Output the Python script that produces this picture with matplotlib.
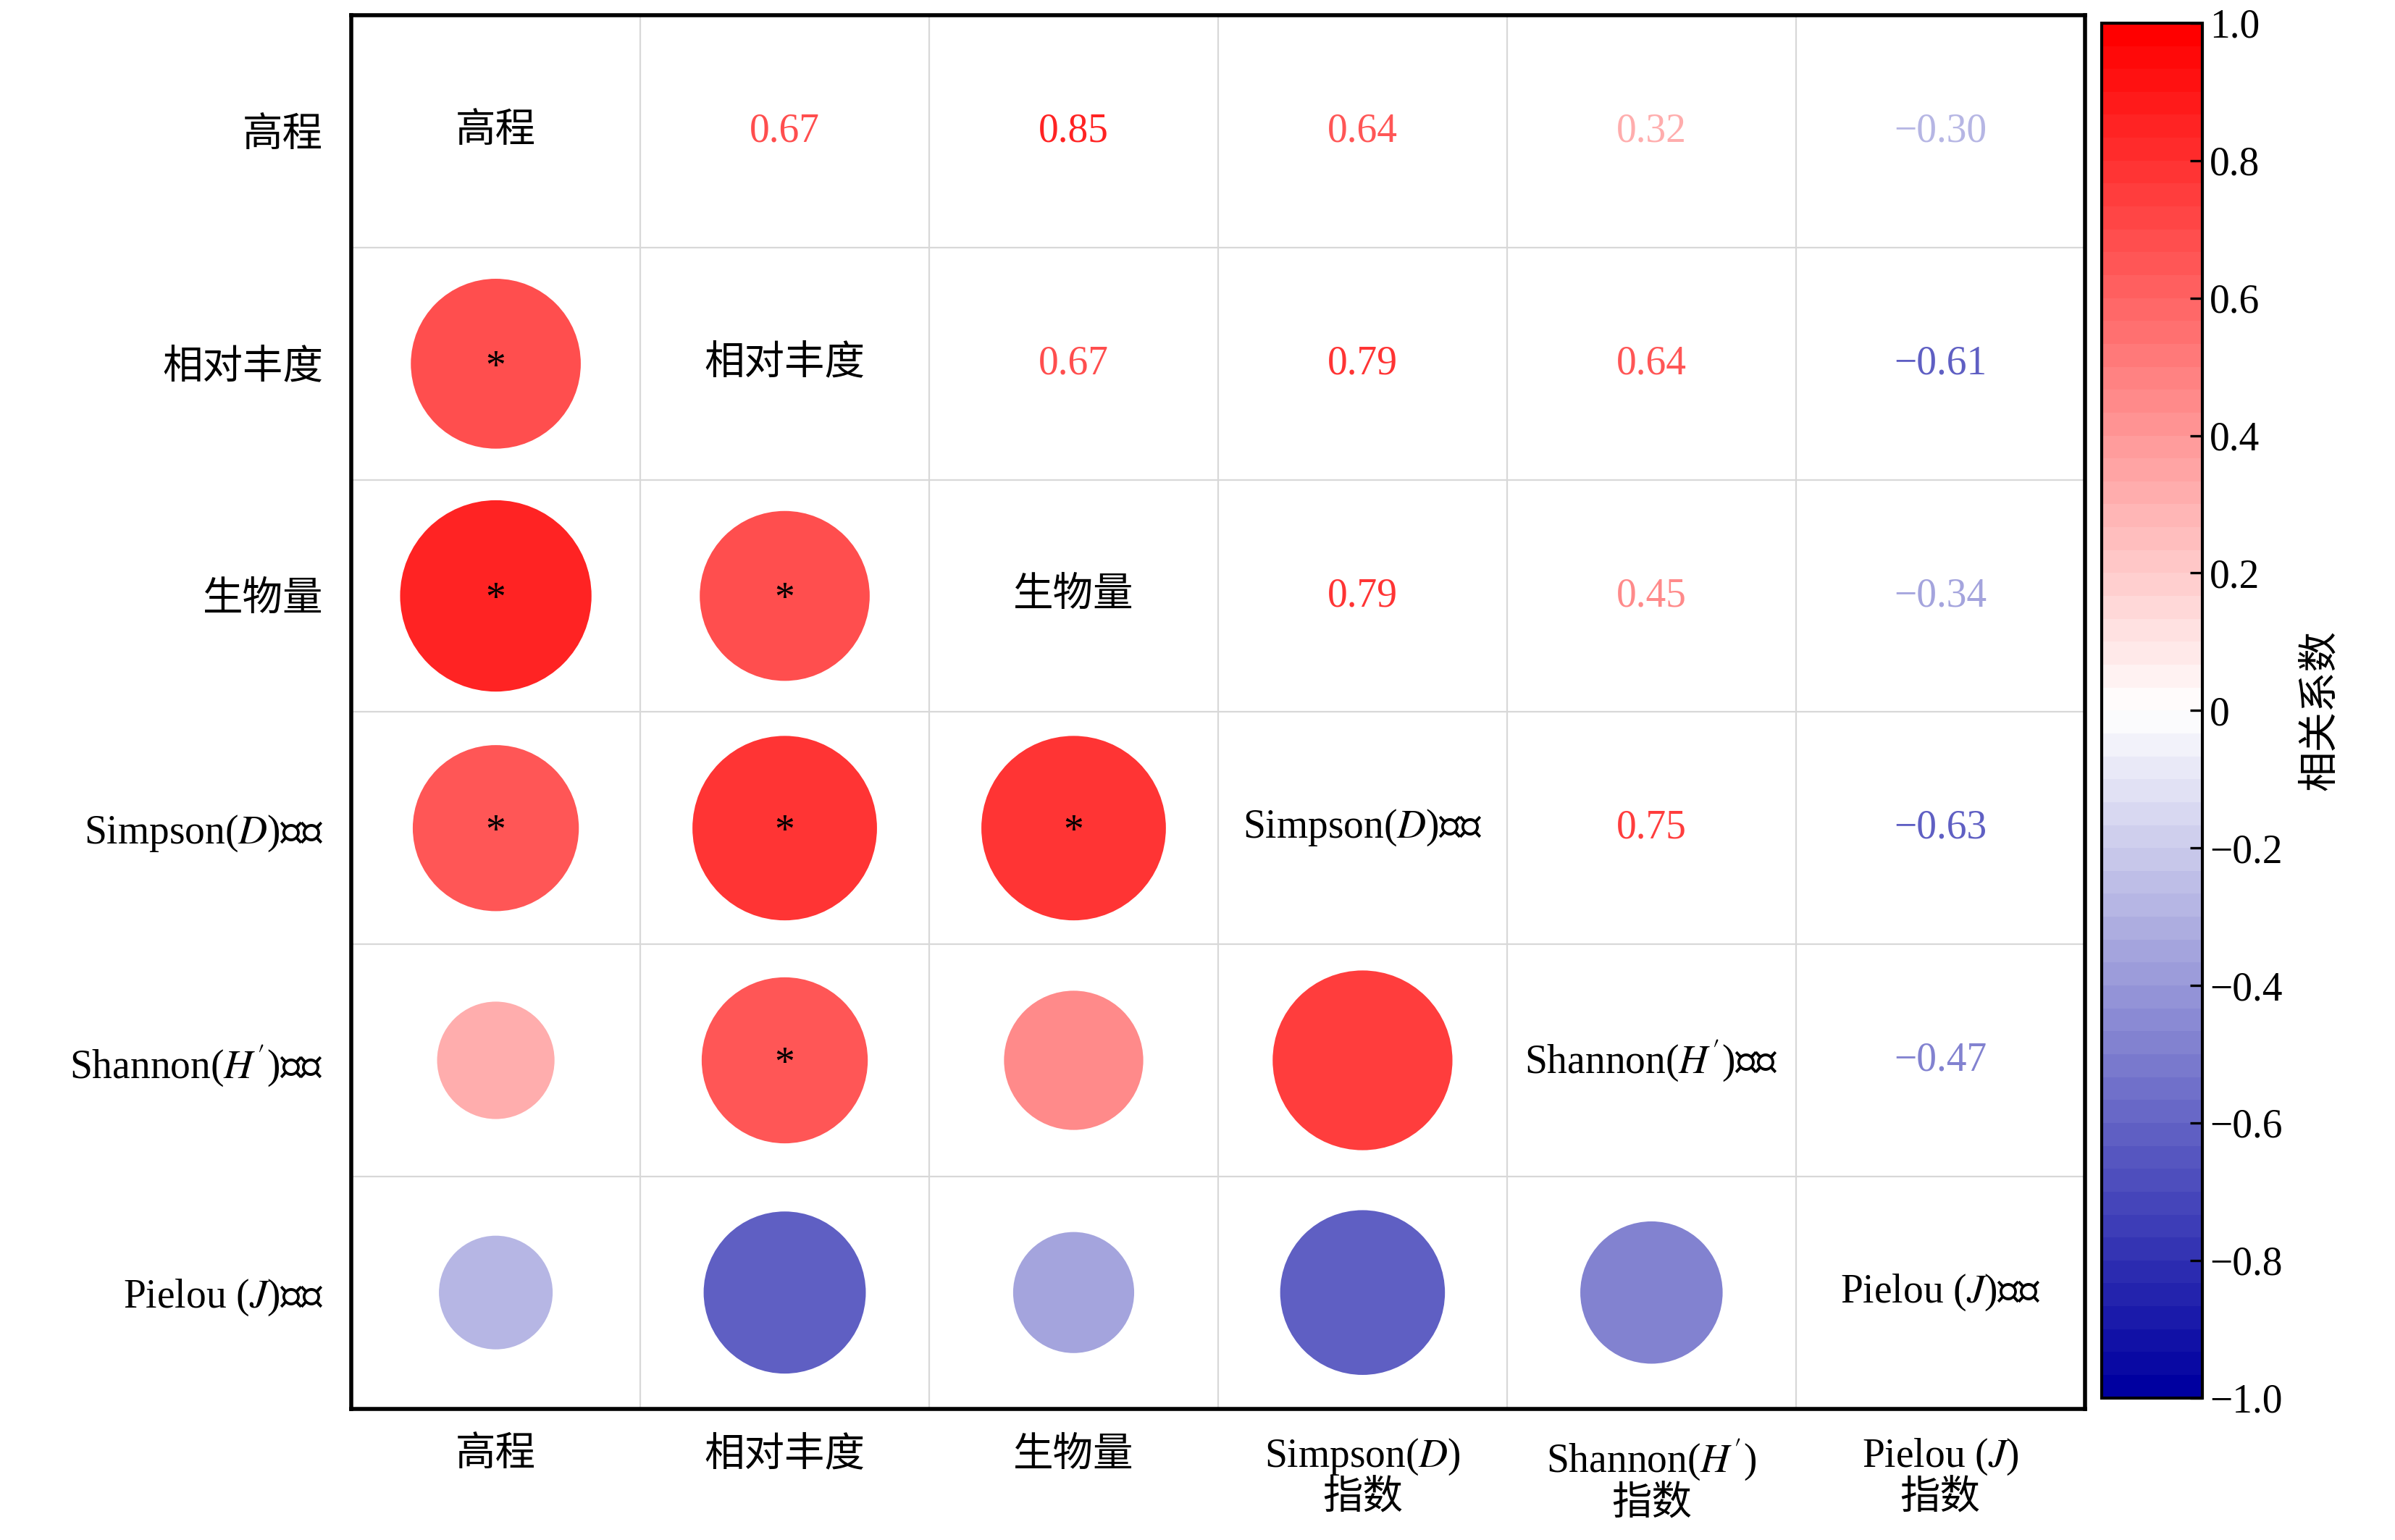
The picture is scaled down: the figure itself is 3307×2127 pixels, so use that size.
import numpy as np
import matplotlib
matplotlib.use("Agg")
import matplotlib.pyplot as plt
from matplotlib.colors import LinearSegmentedColormap, Normalize

plt.rcParams['font.family'] = ['Liberation Serif', 'Noto Sans CJK SC']
plt.rcParams['mathtext.fontset'] = 'stix'

labels = ['高程', '相对丰度', '生物量', 'Simpson($\\mathit{D}$)指数',
          "Shannon($\\mathit{H'}$)指数", 'Pielou ($\\mathit{J}$)指数']
xlabels = ['高程', '相对丰度', '生物量', 'Simpson($\\mathit{D}$)\n指数',
           "Shannon($\\mathit{H'}$)\n指数", 'Pielou ($\\mathit{J}$)\n指数']

# upper triangle values (row i, col j>i)
upper = {
    (0, 1): 0.67, (0, 2): 0.85, (0, 3): 0.64, (0, 4): 0.32, (0, 5): -0.30,
    (1, 2): 0.67, (1, 3): 0.79, (1, 4): 0.64, (1, 5): -0.61,
    (2, 3): 0.79, (2, 4): 0.45, (2, 5): -0.34,
    (3, 4): 0.75, (3, 5): -0.63,
    (4, 5): -0.47,
}
stars = [(1, 0), (2, 0), (3, 0), (2, 1), (3, 1), (4, 1), (3, 2)]

n = len(labels)
cmap = LinearSegmentedColormap.from_list('bwr2', ['#0000a0', '#ffffff', '#ff0000'], N=60)
norm = Normalize(-1, 1)

fig = plt.figure(figsize=(16.535, 10.635), dpi=200)
ax = fig.add_axes([0.1467, 0.0853, 0.7238, 0.9047])
ax.set_xlim(-0.5, n - 0.5)
ax.set_ylim(n - 0.5, -0.5)

for k in range(1, n):
    ax.axvline(k - 0.5, color='#d8d8d8', lw=0.8, zorder=0)
    ax.axhline(k - 0.5, color='#d8d8d8', lw=0.8, zorder=0)

fs = 20
for (i, j), r in upper.items():
    ax.text(j, i, f'{r:.2f}'.replace('-', '−'), ha='center', va='center',
            fontsize=fs, color=cmap(norm(r)))
    ax.scatter([i], [j], s=10650 * abs(r), color=cmap(norm(r)), edgecolors='none', zorder=2)
for i in range(n):
    ax.text(i, i, labels[i], ha='center', va='center', fontsize=fs, color='black')
for (i, j) in stars:
    ax.text(j, i + 0.02, '*', ha='center', va='center', fontsize=fs, color='black', zorder=3)

ax.set_xticks(range(n))
ax.set_xticklabels(xlabels, fontsize=fs, linespacing=1.1)
ax.set_yticks(range(n))
ax.set_yticklabels(labels, fontsize=fs)
ax.tick_params(length=0, pad=14)
for s in ax.spines.values():
    s.set_linewidth(2)

cax = fig.add_axes([0.8776, 0.0923, 0.042, 0.8927])
sm = plt.cm.ScalarMappable(norm=norm, cmap=cmap)
cb = fig.colorbar(sm, cax=cax)
cticks = [-1.0, -0.8, -0.6, -0.4, -0.2, 0, 0.2, 0.4, 0.6, 0.8, 1.0]
cb.set_ticks(cticks)
cb.set_ticklabels(['0' if t == 0 else f'{t:.1f}'.replace('-', '−') for t in cticks])
cb.ax.tick_params(labelsize=fs, direction='in', length=6, width=1.2)
cb.outline.set_linewidth(1.5)
cb.set_label('相关系数', fontsize=fs, labelpad=10)

fig.savefig('out.png', dpi=200)
